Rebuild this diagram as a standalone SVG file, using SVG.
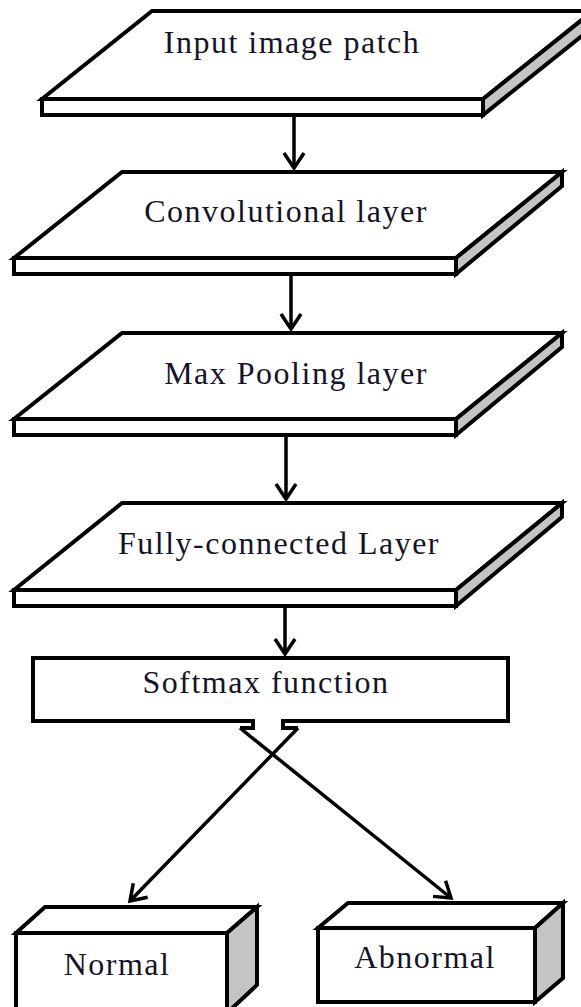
<svg xmlns="http://www.w3.org/2000/svg" width="581" height="1007" viewBox="0 0 581 1007">
<defs>
<marker id="ah" markerUnits="userSpaceOnUse" markerWidth="30" markerHeight="30" refX="0" refY="0" viewBox="-20 -15 30 30" orient="auto" overflow="visible">
<path d="M-15,-10 L0,0 L-15,10" fill="none" stroke="#000" stroke-width="3.5" stroke-linejoin="miter"/>
</marker>
</defs>
<style>
.face{fill:#fff;stroke:#000;stroke-width:4;stroke-linejoin:miter}
.side{fill:#c4c4c4;stroke:#000;stroke-width:4;stroke-linejoin:miter}
.lbl{font-family:"Liberation Serif","Times New Roman",serif;font-size:32px;fill:#141428;text-anchor:middle;letter-spacing:1.5px}
.conn{fill:none;stroke:#000;stroke-width:3.5;marker-end:url(#ah)}
</style>
<rect width="581" height="1007" fill="#fff"/>
<g id="input">
<path class="face" d="M152,11 L593,11 L483,99 L42,99 Z"/>
<rect class="face" x="42" y="99" width="441" height="16"/>
<path class="side" d="M483,99 L593,11 L593,27 L483,115 Z"/>
<text class="lbl" x="292" y="53">Input image patch</text>
</g>
<g id="conv">
<path class="face" d="M122,172 L562,172 L456,258 L14,258 Z"/>
<rect class="face" x="14" y="258" width="442" height="16"/>
<path class="side" d="M456,258 L562,172 L562,186 L456,274 Z"/>
<text class="lbl" x="286" y="222">Convolutional layer</text>
</g>
<g id="pool">
<path class="face" d="M122,333 L562,333 L456,419 L14,419 Z"/>
<rect class="face" x="14" y="419" width="442" height="16"/>
<path class="side" d="M456,419 L562,333 L562,347 L456,435 Z"/>
<text class="lbl" x="296" y="384">Max Pooling layer</text>
</g>
<g id="fc">
<path class="face" d="M122,503 L562,503 L456,590 L14,590 Z"/>
<rect class="face" x="14" y="590" width="442" height="16"/>
<path class="side" d="M456,590 L562,503 L562,517 L456,606 Z"/>
<text class="lbl" x="279" y="554">Fully-connected Layer</text>
</g>
<g id="softmax">
<path class="face" d="M240,728 L253,728 L253,721 L33,721 L33,658 L508,658 L508,721 L283,721 L283,728 L298,728" fill="#fff"/>
<text class="lbl" x="266" y="693">Softmax function</text>
</g>
<g id="normal">
<rect class="face" x="16" y="933" width="211" height="80"/>
<path class="face" d="M16,933 L45,907 L257,907 L227,933 Z"/>
<path class="side" d="M227,933 L257,907 L257,985 L227,1013 Z"/>
<text class="lbl" x="117" y="975">Normal</text>
</g>
<g id="abnormal">
<rect class="face" x="318" y="928" width="217" height="74"/>
<path class="face" d="M318,928 L348,903 L563,903 L535,928 Z"/>
<path class="side" d="M535,928 L563,903 L563,978 L535,1002 Z"/>
<text class="lbl" x="425" y="968">Abnormal</text>
</g>
<g id="connectors">
<line class="conn" x1="294" y1="117" x2="294" y2="168"/>
<line class="conn" x1="291" y1="276" x2="291" y2="329"/>
<line class="conn" x1="286" y1="437" x2="286" y2="499"/>
<line class="conn" x1="285" y1="608" x2="285" y2="654"/>
<line class="conn" x1="298" y1="728" x2="130" y2="901"/>
<line class="conn" x1="240" y1="728" x2="451" y2="898"/>
</g>
</svg>
